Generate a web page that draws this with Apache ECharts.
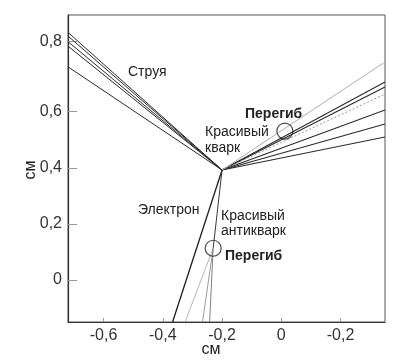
<!DOCTYPE html>
<html>
<head>
<meta charset="utf-8">
<script src="https://cdn.jsdelivr.net/npm/echarts@6/dist/echarts.min.js"></script>
<style>html,body{margin:0;padding:0;background:#fff}#c{width:412px;height:364px}</style>
</head>
<body>
<div id="c"></div>
<script>
// ---- data ----
const xTickValues = [-0.6, -0.4, -0.2, 0, 0.2];
const xTickLabels = ['-0,6', '-0,4', '-0,2', '0', '-0,2'];
const yTickValues = [0, 0.2, 0.4, 0.6, 0.85];
const yTickLabels = ['0', '0,2', '0,4', '0,6', '0,8'];

const vertex = [-0.2, 0.392];
const jetEnds = [[-0.72, 0.883], [-0.72, 0.870], [-0.72, 0.850], [-0.72, 0.834], [-0.72, 0.760]];
const quarkEnds = [[0.35, 0.706], [0.35, 0.688], [0.35, 0.606], [0.35, 0.556], [0.35, 0.510]];
const quarkGreyEnd = [0.345, 0.774];
const quarkDottedEnd = [0.35, 0.663];
const electronEnd = [-0.367, -0.15];
const kinkUpper = [0.012, 0.531];
const kinkLower = [-0.230, 0.113];
const antiquarkDaughterEnds = [[-0.325, -0.15], [-0.266, -0.15], [-0.242, -0.15]];
const antiquarkDaughterGreys = ['#b5b5b5', '#9a9a9a', '#808080'];

// ---- chart ----
const chart = echarts.init(document.getElementById('c'), null, {renderer: 'canvas'});
const FONT = 'Liberation Sans, Arial, sans-serif';
const series = [];
function seg(a, b, color, width, type) {
  series.push({
    type: 'line', data: [a, b], symbol: 'none', silent: true,
    lineStyle: {color: color, width: width, type: type || 'solid'}, z: 3
  });
}
jetEnds.forEach(e => seg(vertex, e, '#2b2b2b', 1));
quarkEnds.forEach(e => seg(vertex, e, '#2b2b2b', 1.1));
seg(vertex, quarkGreyEnd, '#b0b0b0', 1);
seg(vertex, quarkDottedEnd, '#9a9a9a', 1, [2, 2]);
seg(vertex, electronEnd, '#1e1e1e', 1.3);
seg(vertex, kinkLower, '#3a3a3a', 1);
antiquarkDaughterEnds.forEach((e, i) => seg(kinkLower, e, antiquarkDaughterGreys[i], 1));
series.push({
  type: 'scatter', data: [kinkUpper, kinkLower], symbol: 'circle', symbolSize: 16,
  itemStyle: {color: 'rgba(255,255,255,0)', borderColor: '#222', borderWidth: 1.2}, z: 5, silent: true
});

function txt(text, x, y, bold, extra) {
  return Object.assign({
    type: 'text', x: x, y: y, silent: true, z: 10,
    style: {text: text, fill: '#222', font: (bold ? 'bold ' : '') + '14px ' + FONT, verticalAlign: 'middle'}
  }, extra || {});
}

chart.setOption({
  animation: false,
  backgroundColor: '#fff',
  grid: {left: 68, right: 27, top: 15, bottom: 42, show: true, borderColor: '#555', borderWidth: 1},
  xAxis: {
    type: 'value', min: -0.72, max: 0.35,
    splitLine: {show: false},
    axisLine: {show: true, onZero: false, lineStyle: {color: '#333', width: 1.2}},
    axisTick: {show: true, inside: true, length: 4, customValues: xTickValues, lineStyle: {color: '#999'}},
    axisLabel: {
      customValues: xTickValues, margin: 6, color: '#333', fontSize: 16, fontFamily: FONT,
      formatter: v => { const i = xTickValues.findIndex(t => Math.abs(t - v) < 1e-6); return i >= 0 ? xTickLabels[i] : ''; }
    }
  },
  yAxis: {
    type: 'value', min: -0.15, max: 0.945,
    splitLine: {show: false},
    axisLine: {show: true, onZero: false, lineStyle: {color: '#333', width: 1.2}},
    axisTick: {show: true, inside: true, length: 9, customValues: yTickValues, lineStyle: {color: '#999'}},
    axisLabel: {
      customValues: yTickValues, margin: 6, color: '#333', fontSize: 16, fontFamily: FONT,
      formatter: v => { const i = yTickValues.findIndex(t => Math.abs(t - v) < 1e-6); return i >= 0 ? yTickLabels[i] : ''; }
    }
  },
  series: series,
  graphic: [
    txt('Струя', 128, 72),
    txt('Перегиб', 245, 114, true),
    txt('Красивый', 205, 132),
    txt('кварк', 205, 148),
    txt('Электрон', 138, 210),
    txt('Красивый', 221, 216),
    txt('антикварк', 221, 231),
    txt('Перегиб', 225, 256, true),
    {type: 'text', x: 211, y: 350, silent: true,
     style: {text: 'см', fill: '#222', font: '16px ' + FONT, align: 'center', verticalAlign: 'middle'}},
    {type: 'text', x: 31, y: 170, rotation: Math.PI / 2, silent: true,
     style: {text: 'см', fill: '#222', font: '16px ' + FONT, align: 'center', verticalAlign: 'middle'}}
  ]
});
</script>
</body>
</html>
